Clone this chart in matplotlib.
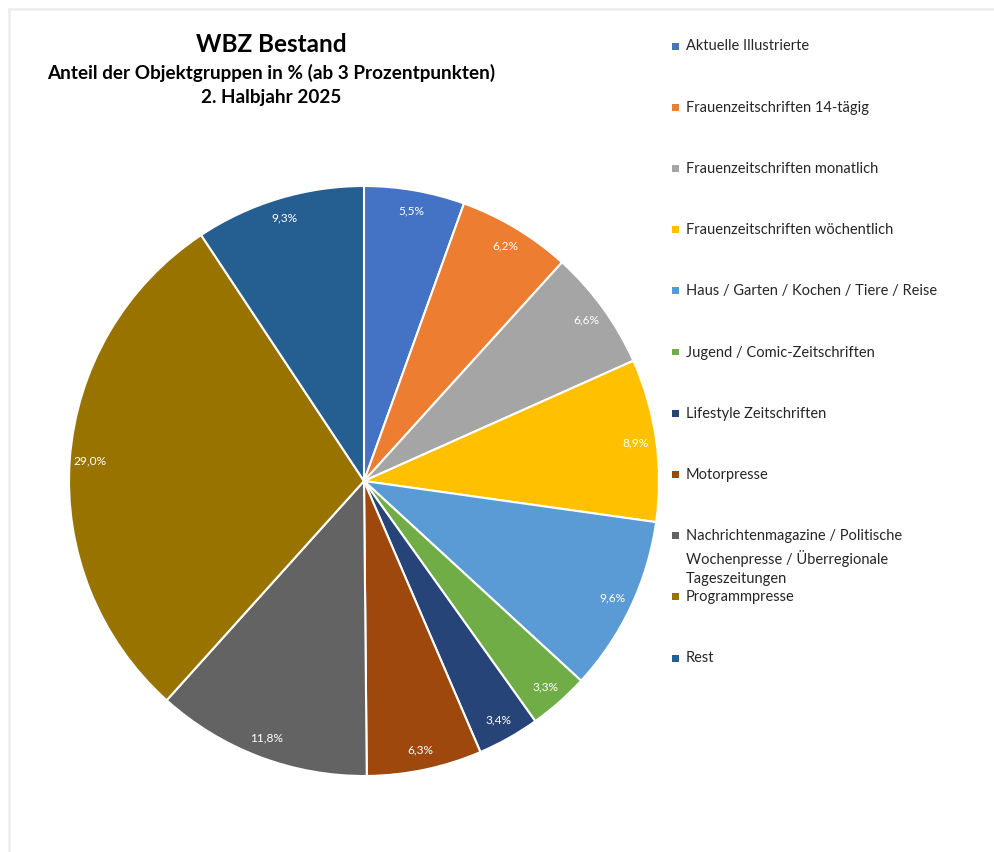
import matplotlib
matplotlib.use("Agg")
import matplotlib.pyplot as plt
from matplotlib.lines import Line2D
from matplotlib.patches import Rectangle

plt.rcParams['font.family'] = ['Lato', 'DejaVu Sans']

# Objektgruppen and Anteil in %
groups = [
    "Aktuelle Illustrierte",
    "Frauenzeitschriften 14-tägig",
    "Frauenzeitschriften monatlich",
    "Frauenzeitschriften wöchentlich",
    "Haus / Garten / Kochen / Tiere / Reise",
    "Jugend / Comic-Zeitschriften",
    "Lifestyle Zeitschriften",
    "Motorpresse",
    "Nachrichtenmagazine / Politische\nWochenpresse / Überregionale\nTageszeitungen",
    "Programmpresse",
    "Rest",
]
shares = [5.5, 6.2, 6.6, 8.9, 9.6, 3.3, 3.4, 6.3, 11.8, 29.0, 9.3]
colors = ["#4472C4", "#ED7D31", "#A5A5A5", "#FFC000", "#5B9BD5", "#70AD47",
          "#264478", "#9E480E", "#636363", "#997300", "#255E91"]

W, H = 994, 852
fig = plt.figure(figsize=(W / 100, H / 100), dpi=100)

# light frame (top and left edge only visible)
fig.add_artist(Line2D([9 / W, 9 / W], [0, 1 - 9 / H], color="#ececec", lw=1.8))
fig.add_artist(Line2D([9 / W, 1], [1 - 9 / H, 1 - 9 / H], color="#ececec", lw=1.8))

# pie: centre (364, 481) px, radius 295 px
cx, cy, r = 364, 481, 295
ax = fig.add_axes([(cx - r) / W, (H - cy - r) / H, 2 * r / W, 2 * r / H])
pct_labels = [f"{v:.1f}".replace(".", ",") + "%" for v in shares]
wedges, texts = ax.pie(shares, colors=colors, startangle=90, counterclock=False,
                       labels=pct_labels, labeldistance=0.93,
                       wedgeprops=dict(edgecolor="white", linewidth=1.5),
                       textprops=dict(color="white", fontsize=8.6))
for t in texts:
    t.set_horizontalalignment("center")
    t.set_verticalalignment("center")
ax.set_xlim(-1, 1)
ax.set_ylim(-1, 1)

# titles
fig.text(271 / W, 1 - 44 / H, "WBZ Bestand", ha="center", va="center",
         fontsize=17.5, fontweight="bold")
fig.text(271 / W, 1 - 73 / H, "Anteil der Objektgruppen in % (ab 3 Prozentpunkten)",
         ha="center", va="center", fontsize=13.6, fontweight="bold")
fig.text(271 / W, 1 - 98 / H, "2. Halbjahr 2025", ha="center", va="center",
         fontsize=13.6, fontweight="bold")

# legend
for i, (name, col) in enumerate(zip(groups, colors)):
    y = 46 + 61.2 * i
    fig.add_artist(Rectangle((672 / W, 1 - (y + 3.5) / H), 7 / W, 7 / H,
                             transform=fig.transFigure, facecolor=col,
                             edgecolor="none"))
    fig.text(686 / W, 1 - (y - 6.5) / H, name, ha="left", va="top",
             fontsize=10.5, color="#262626", linespacing=1.47)

fig.savefig("out.png", dpi=100)
